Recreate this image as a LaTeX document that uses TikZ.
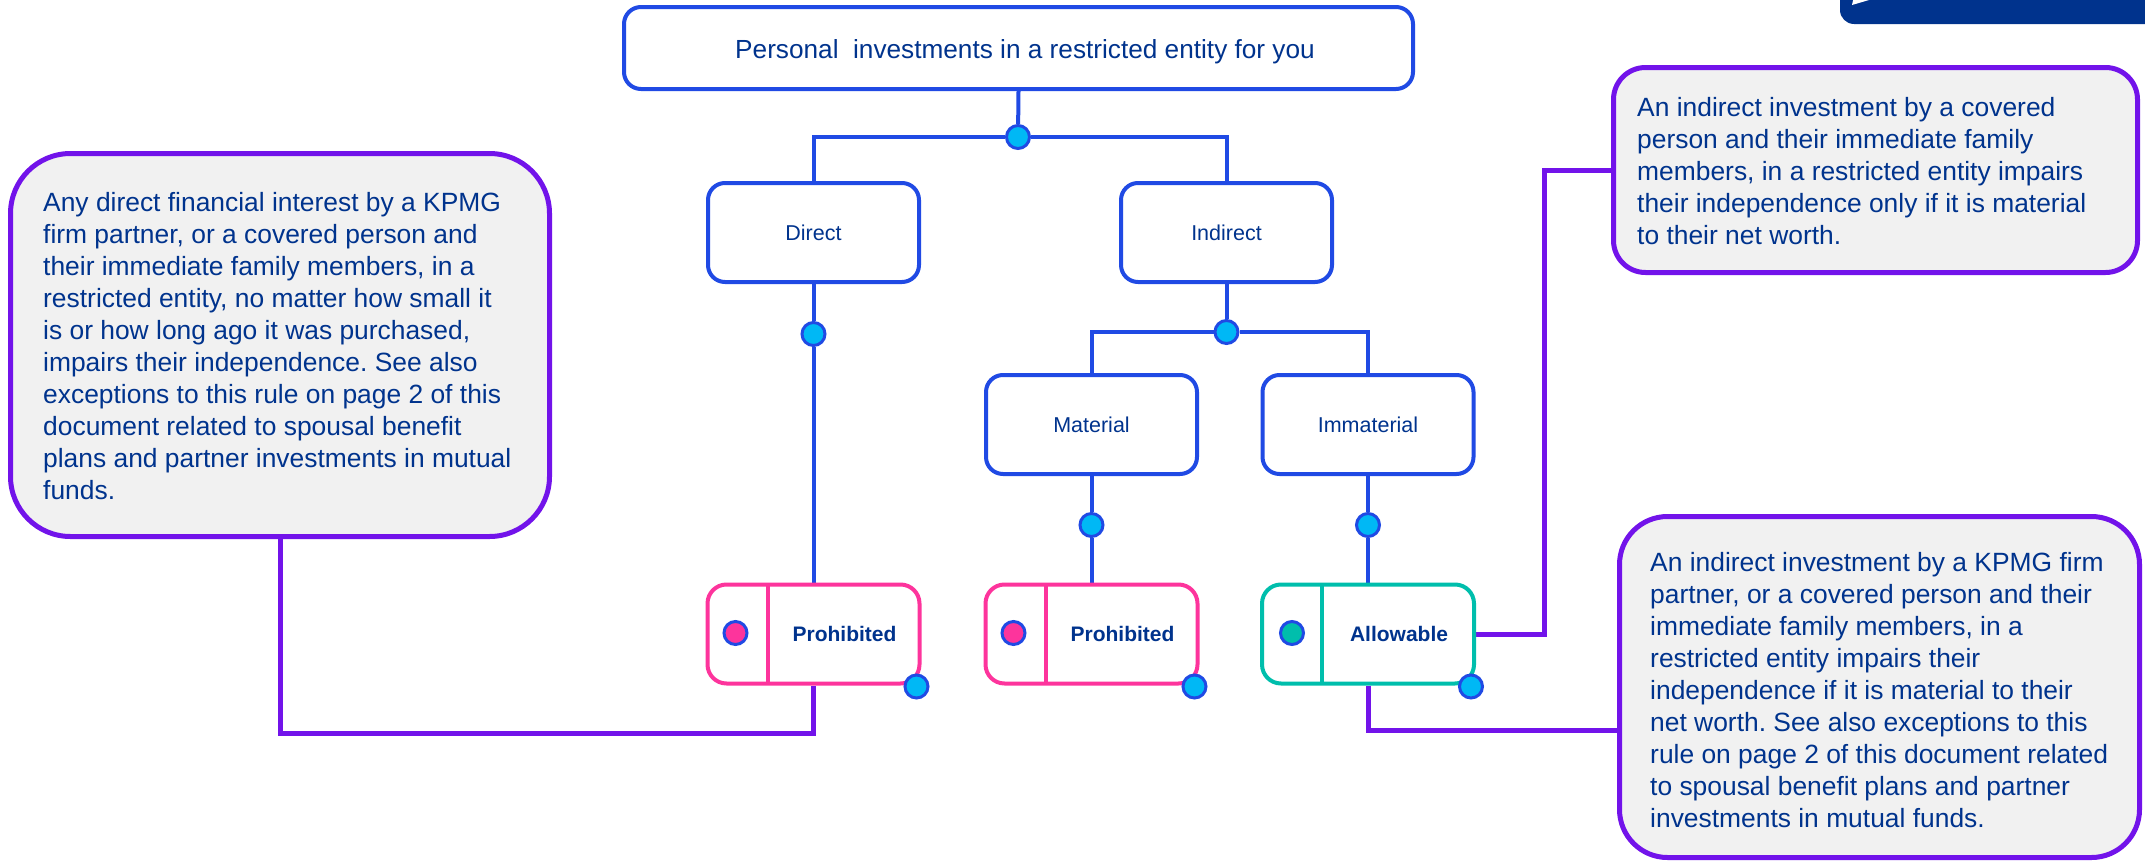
\documentclass[tikz,border=0pt]{standalone}
\usepackage{fontspec}
\setmainfont{Liberation Sans}
\usetikzlibrary{calc,backgrounds}
\frenchspacing

\definecolor{lineblue}{RGB}{32,74,228}
\definecolor{dotcyan}{RGB}{0,184,245}
\definecolor{kblue}{RGB}{0,51,141}
\definecolor{kpink}{RGB}{253,52,156}
\definecolor{kteal}{RGB}{0,190,172}
\definecolor{kpurple}{RGB}{114,19,234}
\definecolor{notegrey}{RGB}{241,241,241}

\tikzset{
  conn/.style={draw=lineblue, line width=4},
  link/.style={draw=kpurple, line width=5},
  catbox/.style={draw=lineblue, line width=4, rounded corners=17, fill=white,
    minimum width=211, minimum height=99, inner sep=0, text=kblue, text depth=0,
    font=\fontsize{21.5}{26}\selectfont},
  titlebox/.style={catbox, minimum width=789, minimum height=82,
    font=\fontsize{26.4}{32}\selectfont},
  resultbox/.style={line width=4, rounded corners=19, fill=white,
    minimum width=212, minimum height=99, inner sep=0},
  resultlabel/.style={text=kblue, text depth=0, inner sep=0,
    font=\fontsize{21}{26}\selectfont\bfseries},
  dot/.style={circle, draw=lineblue, line width=3, fill=dotcyan,
    minimum size=23, inner sep=0},
  note/.style={draw=kpurple, line width=5, fill=notegrey, inner sep=0},
  notetext/.style={text=kblue, align=left, inner sep=0, anchor=west,
    font=\fontsize{26.4}{32}\selectfont},
}

\begin{document}
\begin{tikzpicture}[x=1pt, y=-1pt]
\useasboundingbox (0,0) rectangle (2145,862);

% corner badge at top right
\fill[kblue, rounded corners=14] (1840,-40) rectangle (2185,24);
\fill[white] (1852,5) -- (1869,0) -- (1854,-4) -- cycle;

% decision tree boxes
\node[titlebox] (top) at (1018.5,48) {};
\node[text=kblue, inner sep=0, anchor=base, font=\fontsize{26.2}{32}\selectfont]
  (toplabel) at (1025,58.5) {Personal \ investments in a restricted entity for you};
\node[catbox] (direct) at (813.5,232.5) {Direct};
\node[catbox] (indirect) at (1226.5,232.5) {Indirect};
\node[catbox] (material) at (1091.5,424.5) {Material};
\node[catbox] (immaterial) at (1368,424.5) {Immaterial};

% junction dots
\node[dot] (j1) at (1018,137) {};
\node[dot] (j2) at (1226.5,332) {};
\node[dot] (jd) at (813.5,334) {};
\node[dot] (jm) at (1091.5,525) {};
\node[dot] (ji) at (1368,525) {};

% outcome boxes
\node[resultbox, draw=kpink] (p1) at (813.5,634) {};
\node[resultbox, draw=kpink] (p2) at (1091.5,634) {};
\node[resultbox, draw=kteal] (al) at (1368,634) {};
\foreach \b/\c in {p1/kpink, p2/kpink, al/kteal}{
  \draw[\c, line width=4] ($(\b.north west)+(62,2)$) -- ($(\b.south west)+(62,-2)$);
}
\node[dot, fill=kpink] (p1m) at ($(p1.west)+(30,-1)$) {};
\node[dot, fill=kpink] (p2m) at ($(p2.west)+(30,-1)$) {};
\node[dot, fill=kteal] (alm) at ($(al.west)+(32,-1)$) {};
\node[resultlabel] (p1l) at ($(p1.center)+(31,0)$) {Prohibited};
\node[resultlabel] (p2l) at ($(p2.center)+(31,0)$) {Prohibited};
\node[resultlabel] (all) at ($(al.center)+(31,0)$) {Allowable};
\node[dot] (p1c) at ($(p1.south east)+(-5,1)$) {};
\node[dot] (p2c) at ($(p2.south east)+(-5,1)$) {};
\node[dot] (alc) at ($(al.south east)+(-5,1)$) {};

% explanatory notes
\node[note, rounded corners=60, minimum width=539, minimum height=383] (n1) at (280,345) {};
\node[notetext] (n1t) at (43,346.5) {Any direct financial interest by a KPMG\\
firm partner, or a covered person and\\
their immediate family members, in a\\
restricted entity, no matter how small it\\
is or how long ago it was purchased,\\
impairs their independence. See also\\
exceptions to this rule on page 2 of this\\
document related to spousal benefit\\
plans and partner investments in mutual\\
funds.};

\node[note, rounded corners=32, minimum width=524, minimum height=205] (n2) at (1875.5,170) {};
\node[notetext] (n2t) at (1637,171.5) {An indirect investment by a covered\\
person and their immediate family\\
members, in a restricted entity impairs\\
their independence only if it is material\\
to their net worth.};

\node[note, rounded corners=48, minimum width=520, minimum height=341] (n3) at (1879.5,687) {};
\node[notetext] (n3t) at (1650,690) {An indirect investment by a KPMG firm\\
partner, or a covered person and their\\
immediate family members, in a\\
restricted entity impairs their\\
independence if it is material to their\\
net worth. See also exceptions to this\\
rule on page 2 of this document related\\
to spousal benefit plans and partner\\
investments in mutual funds.};

% connectors, kept beneath the boxes and dots
\coordinate (b1) at (813.5,733);
\coordinate (b2) at (1544,170);
\coordinate (b3) at (1368,730);
\begin{scope}[on background layer]
\draw[conn] (top.south) -- (j1);
\draw[conn] (direct.north) |- (j1) -| (indirect.north);
\draw[conn] (direct.south) -- (jd) -- (p1.north);
\draw[conn] (indirect.south) -- (j2);
\draw[conn] (material.north) |- (j2) -| (immaterial.north);
\draw[conn] (material.south) -- (jm) -- (p2.north);
\draw[conn] (immaterial.south) -- (ji) -- (al.north);
\draw[link] (n1.south) |- (b1) -- (p1.south);
\draw[link] (al.east) -| (b2) -- (n2.west);
\draw[link] (al.south) -- (b3) -- (b3 -| n3.west);
\end{scope}
\end{tikzpicture}
\end{document}
